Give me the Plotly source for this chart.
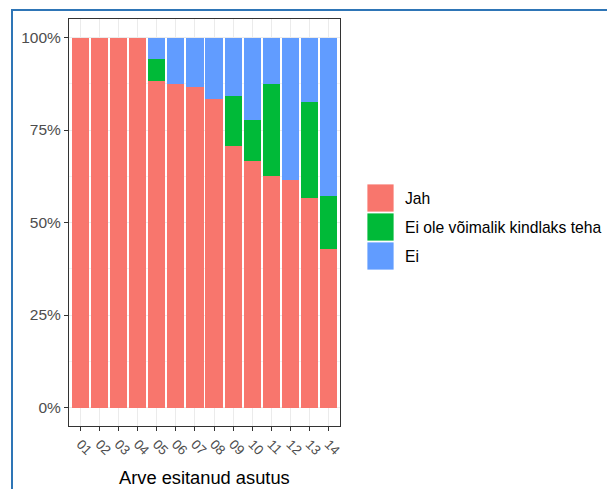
import plotly.graph_objects as go

categories = ["01", "02", "03", "04", "05", "06", "07", "08", "09", "10", "11", "12", "13", "14"]
jah = [100, 100, 100, 100, 88.2, 87.5, 86.7, 83.3, 70.6, 66.7, 62.5, 61.5, 56.5, 42.9]
ei_ole = [0, 0, 0, 0, 5.9, 0, 0, 0, 13.7, 11.1, 25.0, 0, 26.1, 14.3]
ei = [round(100 - a - b, 1) for a, b in zip(jah, ei_ole)]
series_names = ["Jah", "Ei ole võimalik kindlaks teha", "Ei"]
series_colors = ["#F8766D", "#00BA38", "#619CFF"]
y_ticks = [0, 25, 50, 75, 100]
y_ticktext = ["0%", "25%", "50%", "75%", "100%"]
x_title = "Arve esitanud asutus"

W, H = 607, 489
L, R, T, B = 69, 340, 19, 426

def px(x):
    return (x - L) / (R - L)

def py(y):
    return (B - y) / (B - T)

fig = go.Figure()
for name, vals, col in zip(series_names, [jah, ei_ole, ei], series_colors):
    fig.add_trace(go.Bar(x=categories, y=vals, name=name, marker=dict(color=col, line=dict(width=0)),
                         showlegend=False))

font = "Liberation Sans, Arial, sans-serif"
fig.update_layout(
    width=W, height=H,
    margin=dict(l=L, r=W - R, t=T, b=H - B, pad=0),
    barmode="stack", bargap=0.1,
    paper_bgcolor="white", plot_bgcolor="white",
    font=dict(family=font, color="#4D4D4D", size=15.5),
)
fig.update_xaxes(
    range=[-0.6, 13.6], tickangle=45, showgrid=True, gridcolor="#EBEBEB", gridwidth=1,
    showline=True, mirror=True, linecolor="#333333", linewidth=1,
    ticks="outside", ticklen=4, tickcolor="#333333", tickfont=dict(size=13.5, color="#4D4D4D"),
    zeroline=False, automargin=False,
)
fig.update_yaxes(
    range=[-5, 105], tickvals=y_ticks, ticktext=y_ticktext, showgrid=True, gridcolor="#EBEBEB", gridwidth=1,
    minor=dict(tickvals=[12.5, 37.5, 62.5, 87.5], showgrid=True, gridcolor="#F2F2F2", gridwidth=0.6),
    showline=True, mirror=True, linecolor="#333333", linewidth=1,
    ticks="outside", ticklen=4, tickcolor="#333333", tickfont=dict(size=15.5, color="#4D4D4D"),
    zeroline=False, automargin=False,
)

shapes = []
annotations = []
# manual legend
key_tops = [184, 213, 242]
for name, col, top in zip(series_names, series_colors, key_tops):
    shapes.append(dict(type="rect", xref="paper", yref="paper",
                       x0=px(367), x1=px(394), y0=py(top + 28), y1=py(top),
                       fillcolor=col, line=dict(width=0.8, color="#FFFFFF")))
    annotations.append(dict(text=name, xref="paper", yref="paper", x=px(403), y=py(top + 14),
                            xanchor="left", yanchor="middle", showarrow=False,
                            font=dict(family=font, size=15.7, color="#000000")))
# axis title
annotations.append(dict(text=x_title, xref="paper", yref="paper", x=0.5, y=py(477),
                        xanchor="center", yanchor="middle", showarrow=False,
                        font=dict(family=font, size=18.3, color="#000000")))
# blue document frame
shapes.append(dict(type="rect", xref="paper", yref="paper",
                   x0=px(12), x1=px(640), y0=py(520), y1=py(10),
                   line=dict(color="#2E75B6", width=2), fillcolor="rgba(0,0,0,0)", layer="above"))
fig.update_layout(shapes=shapes, annotations=annotations)

fig.write_html("out.html", config={"displayModeBar": False},
               post_script="document.body.style.margin='0';document.body.style.overflow='hidden';")
